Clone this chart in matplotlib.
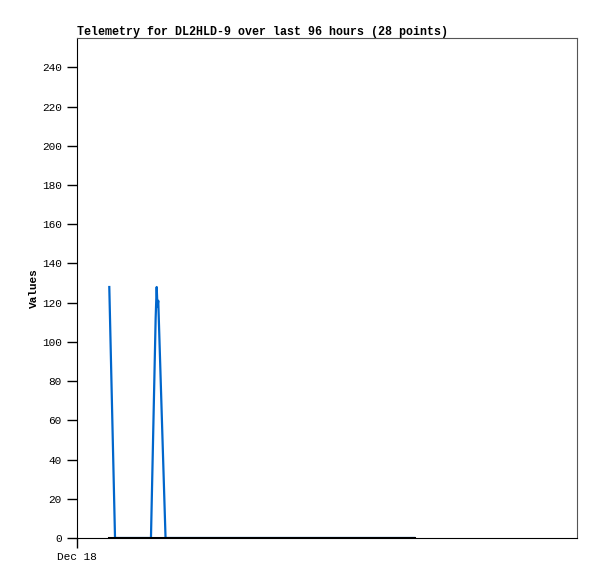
import matplotlib
matplotlib.use("Agg")
import matplotlib.pyplot as plt

#------------------------------------------------------------------------------
#                   data (hours since Dec 18 00:00)
#------------------------------------------------------------------------------
blueHours = [6.2, 7.3, 14.2, 15.1, 15.3, 15.45, 15.6, 17.0, 64.7]
blueValues = [128, 0, 0, 112, 128, 118, 121, 0, 0]

blackHours = [6.1, 64.7]
blackValues = [0, 0]

xTicks = [0]
xTickLabels = ["Dec 18"]
yTicks = list(range(0, 241, 20))

#------------------------------------------------------------------------------
#                   plot
#------------------------------------------------------------------------------
plt.rcParams['font.family'] = ['Liberation Mono', 'DejaVu Sans Mono']

fig = plt.figure(figsize=(5.97, 5.79), dpi=100)
ax = fig.add_axes([77 / 597, 1 - 538 / 579, 500 / 597, 500 / 579])

ax.plot(blueHours, blueValues, color='#0066cc', linewidth=1.6)
ax.plot(blackHours, blackValues, color='black', linewidth=2.2)

ax.set_xlim(0, 96)
ax.set_ylim(0, 255)
ax.set_xticks(xTicks)
ax.set_xticklabels(xTickLabels, fontsize=8)
ax.set_yticks(yTicks)
ax.tick_params(axis='y', labelsize=8, length=7, width=1, pad=4)
ax.tick_params(axis='x', length=7, width=1, pad=3)

for side in ['top', 'right']:
    ax.spines[side].set_color('#555555')
for side in ['left', 'bottom']:
    ax.spines[side].set_color('black')

ax.set_ylabel("Values", fontsize=8, fontweight='bold', labelpad=2)
ax.set_title("Telemetry for DL2HLD-9 over last 96 hours (28 points)",
             fontsize=8.4, fontweight='bold', loc='left', pad=2)

fig.savefig("out.png", dpi=100)
